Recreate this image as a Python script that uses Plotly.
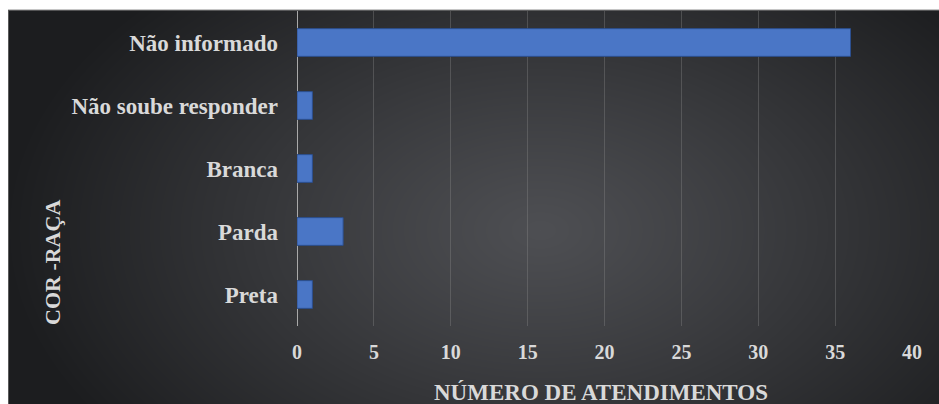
import base64
import struct
import zlib

import numpy as np
import plotly.graph_objects as go

# Data (bottom to top)
categories = ["Preta", "Parda", "Branca", "Não soube responder", "Não informado"]
atendimentos = [1, 3, 1, 1, 36]

x_title = "NÚMERO DE ATENDIMENTOS"
y_title = "COR -RAÇA"

W, H = 939, 404
ML, MR, MT, MB = 297, 27, 11, 78
PW, PH = W - ML - MR, H - MT - MB

FONT = "Liberation Serif"
TXT = "#d9d9d9"


def png_data_uri(rgb):
    """Encode an (h, w, 3) uint8 array as a PNG data URI."""
    h, w, _ = rgb.shape
    raw = b"".join(b"\x00" + rgb[i].tobytes() for i in range(h))

    def chunk(tag, data):
        c = struct.pack(">I", len(data)) + tag + data
        return c + struct.pack(">I", zlib.crc32(tag + data) & 0xFFFFFFFF)

    png = b"\x89PNG\r\n\x1a\n"
    png += chunk(b"IHDR", struct.pack(">IIBBBBB", w, h, 8, 2, 0, 0, 0))
    png += chunk(b"IDAT", zlib.compress(raw, 9))
    png += chunk(b"IEND", b"")
    return "data:image/png;base64," + base64.b64encode(png).decode()


# Dark radial-gradient backdrop of the chart panel
bx0, by0 = 8, 10
bw, bh = W - bx0, H - by0
yy, xx = np.mgrid[0:bh, 0:bw].astype(float)
cx, cy = 540 - bx0, 230 - by0
r = np.sqrt(((xx - cx) / 540.0) ** 2 + ((yy - cy) / 340.0) ** 2)
t = np.clip(r, 0, 1) ** 1.1
inner = np.array([78, 79, 83], float)
outer = np.array([28, 29, 31], float)
img = inner[None, None, :] + (outer - inner)[None, None, :] * t[..., None]
img = np.clip(img, 0, 255).astype(np.uint8)
bg_uri = png_data_uri(img)


def px_to_paper_x(px):
    return (px - ML) / PW


def px_to_paper_y(py):
    return 1 - (py - MT) / PH


fig = go.Figure(
    go.Bar(
        x=atendimentos,
        y=categories,
        orientation="h",
        marker=dict(color="#4a76c6", line=dict(color="#2c4f8f", width=1)),
        hoverinfo="x+y",
    )
)

fig.add_layout_image(
    dict(
        source=bg_uri,
        xref="paper", yref="paper",
        x=px_to_paper_x(bx0), y=px_to_paper_y(by0),
        sizex=bw / PW, sizey=bh / PH,
        xanchor="left", yanchor="top",
        sizing="stretch", layer="below",
    )
)

# thin grey frame line along the panel's top and left edges
fig.add_shape(
    type="line", xref="paper", yref="paper",
    x0=px_to_paper_x(bx0), x1=px_to_paper_x(W),
    y0=px_to_paper_y(by0), y1=px_to_paper_y(by0),
    line=dict(color="#8c8c8c", width=1), layer="below",
)
fig.add_shape(
    type="line", xref="paper", yref="paper",
    x0=px_to_paper_x(bx0 + 0.5), x1=px_to_paper_x(bx0 + 0.5),
    y0=px_to_paper_y(by0), y1=px_to_paper_y(H),
    line=dict(color="#5a5a5a", width=1), layer="below",
)

fig.add_annotation(
    text=x_title, xref="paper", yref="paper",
    x=px_to_paper_x(601), y=px_to_paper_y(392),
    xanchor="center", yanchor="middle", showarrow=False,
    font=dict(family=FONT, size=23, color=TXT, weight="bold"),
)
fig.add_annotation(
    text=y_title, xref="paper", yref="paper",
    x=px_to_paper_x(52), y=px_to_paper_y(263),
    xanchor="center", yanchor="middle", showarrow=False, textangle=-90,
    font=dict(family=FONT, size=22, color=TXT, weight="bold"),
)

fig.update_layout(
    width=W, height=H,
    margin=dict(l=ML, r=MR, t=MT, b=MB, pad=0),
    paper_bgcolor="white",
    plot_bgcolor="rgba(0,0,0,0)",
    bargap=0.56,
    showlegend=False,
    font=dict(family=FONT, color=TXT, weight="bold"),
)
fig.update_xaxes(
    range=[0, 40], dtick=5, tick0=0,
    showgrid=True, gridcolor="rgba(140,140,140,0.35)", gridwidth=1,
    zeroline=False, showline=False, ticks="",
    tickfont=dict(family=FONT, size=20, color=TXT, weight="bold"),
    ticklabelstandoff=12,
)
fig.update_yaxes(
    showgrid=False, zeroline=False,
    showline=False, ticks="",
    tickfont=dict(family=FONT, size=23, color=TXT, weight="bold"),
    ticklabelstandoff=18,
)
# vertical axis line at x = 0
fig.add_shape(
    type="line", xref="x", yref="paper", x0=0, x1=0, y0=0, y1=1,
    line=dict(color="#a9a9a9", width=2), layer="below",
)

fig.write_html("out.html")
